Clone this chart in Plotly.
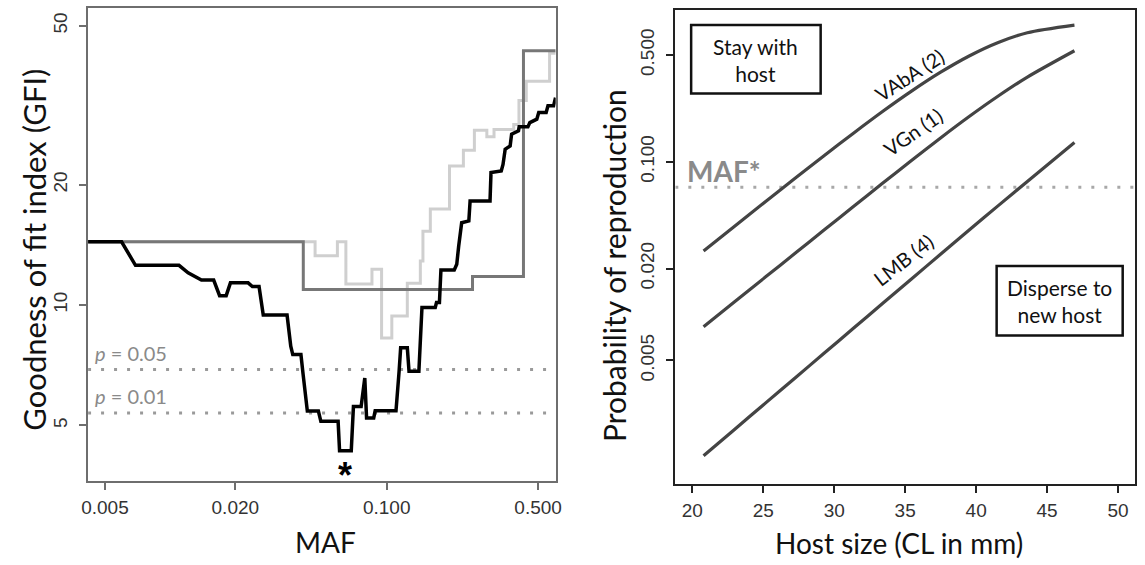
import numpy as np
import plotly.graph_objects as go

# ---------------- Left panel data (GFI vs MAF) ----------------
black_maf = [0.00418, 0.00597, 0.00692, 0.01099, 0.01211, 0.01395, 0.01589, 0.01692, 0.01815,
             0.01899, 0.02291, 0.02398, 0.02574, 0.02692, 0.03467, 0.03606, 0.03684, 0.04018,
             0.04112, 0.04301, 0.04837, 0.04966, 0.05966, 0.06059, 0.06861, 0.07022, 0.07621,
             0.07922, 0.08073, 0.0871, 0.08847, 0.1104, 0.1141, 0.1160, 0.1245, 0.1268, 0.1408,
             0.1455, 0.1676, 0.1698, 0.1752, 0.1780, 0.2051, 0.2106, 0.2150, 0.2219, 0.2395,
             0.2427, 0.3000, 0.3031, 0.3380, 0.3444, 0.3524, 0.3715, 0.3774, 0.4060, 0.4089,
             0.4487, 0.4581, 0.4932, 0.5035, 0.5449, 0.5555, 0.5896, 0.602]
black_gfi = [14.4, 14.4, 12.58, 12.58, 12.05, 11.55, 11.55, 10.56, 10.56,
             11.37, 11.37, 11.13, 11.13, 9.45, 9.45, 7.89, 7.52, 7.52,
             6.71, 5.43, 5.43, 5.12, 5.12, 4.32, 4.32, 5.58, 5.58,
             6.57, 5.22, 5.22, 5.44, 5.44, 6.83, 7.82, 7.82, 6.83, 6.83,
             9.87, 9.87, 10.15, 10.15, 12.25, 12.25, 12.65, 14.06, 16.08, 16.24,
             18.23, 18.23, 21.46, 21.67, 22.5, 24.56, 25.03, 26.79, 27.3, 27.93,
             27.93, 28.63, 29.2, 30.34, 30.34, 31.53, 31.53, 33.07]

dgray_maf = [0.00418, 0.0412, 0.249, 0.428, 0.603]
dgray_gfi = [14.4, 10.95, 11.8, 43.3, 43.3]

lgray_maf = [0.00418, 0.0467, 0.0592, 0.0648, 0.0855, 0.0947, 0.1056, 0.1245, 0.143, 0.147,
             0.159, 0.195, 0.226, 0.254, 0.290, 0.313, 0.386, 0.408, 0.441, 0.565, 0.603]
lgray_gfi = [14.4, 13.3, 14.4, 11.3, 12.3, 8.28, 9.39, 11.35, 12.9, 15.3,
             17.4, 22.3, 24.4, 27.4, 26.4, 27.5, 28.3, 32.5, 36.3, 42.7, 42.7]

p_levels = [6.90, 5.37]
p_labels = ["<i>p</i> = 0.05", "<i>p</i> = 0.01"]
maf_star = 0.0645          # position of the GFI minimum
left_xrange = [0.00418, 0.603]
left_yrange = [3.63, 55.4]
left_xticks = [0.005, 0.02, 0.1, 0.5]
left_xticktext = ["0.005", "0.020", "0.100", "0.500"]
left_yticks = [5, 10, 20, 50]

# ---------------- Right panel data (probability vs host size) ----------------
host_size = [20.79, 22.89, 25.19, 27.24, 29.28, 31.33, 33.38, 35.42, 37.47, 39.51, 41.56, 43.61, 46.93]
vaba_p = [0.0260, 0.03727, 0.05516, 0.0780, 0.1097, 0.1534, 0.2126, 0.2891, 0.3846, 0.4932, 0.6044, 0.6995, 0.7847]
vgn_p = [0.00832, 0.01193, 0.01770, 0.02515, 0.03570, 0.05073, 0.07194, 0.1016, 0.1427, 0.1978, 0.2695, 0.3585, 0.5334]
lmb_p = [0.001189, 0.001741, 0.002646, 0.003842, 0.005567, 0.008084, 0.01174, 0.01701, 0.02471, 0.03572, 0.05162, 0.07439, 0.1336]
curve_names = ["VAbA (2)", "VGn (1)", "LMB (4)"]
maf_star_p = 0.068
right_xrange = [18.8, 51.2]
right_yrange = [0.000776, 0.9863]
right_xticks = [20, 25, 30, 35, 40, 45, 50]
right_yticks = [0.005, 0.02, 0.1, 0.5]
right_yticktext = ["0.005", "0.020", "0.100", "0.500"]

W, H = 1145, 565
TITLE_FONT = "Lato, Open Sans, sans-serif"
TICK_FONT = "Liberation Sans, Arial, sans-serif"
DOTS = "3px,10px"

fig = go.Figure()

# threshold dotted lines (drawn first, under the curves)
for lvl in p_levels:
    fig.add_trace(go.Scatter(x=left_xrange, y=[lvl, lvl], mode="lines",
                             line=dict(color="#9a9a9a", width=3, dash=DOTS),
                             xaxis="x", yaxis="y", hoverinfo="skip"))
fig.add_trace(go.Scatter(x=right_xrange, y=[maf_star_p, maf_star_p], mode="lines",
                         line=dict(color="#a8a8a8", width=3, dash=DOTS),
                         xaxis="x2", yaxis="y2", hoverinfo="skip"))

# left panel lines (light gray under dark gray under black)
fig.add_trace(go.Scatter(x=lgray_maf, y=lgray_gfi, mode="lines",
                         line=dict(color="#cfcfcf", width=3, shape="hv"),
                         xaxis="x", yaxis="y", hoverinfo="skip"))
fig.add_trace(go.Scatter(x=dgray_maf, y=dgray_gfi, mode="lines",
                         line=dict(color="#777777", width=3, shape="hv"),
                         xaxis="x", yaxis="y", hoverinfo="skip"))
fig.add_trace(go.Scatter(x=black_maf, y=black_gfi, mode="lines",
                         line=dict(color="#000000", width=3.5),
                         xaxis="x", yaxis="y", hoverinfo="skip"))

# right panel curves
for pvals in (vaba_p, vgn_p, lmb_p):
    fig.add_trace(go.Scatter(x=host_size, y=pvals, mode="lines",
                             line=dict(color="#444444", width=3.2, shape="spline", smoothing=0.8),
                             xaxis="x2", yaxis="y2", hoverinfo="skip"))

shapes = []
# text boxes on the right panel
shapes.append(dict(type="rect", xref="paper", yref="paper",
                   x0=692 / W, x1=823 / W, y0=1 - 93.5 / H, y1=1 - 25 / H,
                   line=dict(color="#111111", width=2.5), fillcolor="white", layer="below"))
shapes.append(dict(type="rect", xref="paper", yref="paper",
                   x0=1001 / W, x1=1128.5 / W, y0=1 - 335.5 / H, y1=1 - 266 / H,
                   line=dict(color="#111111", width=2.5), fillcolor="white", layer="below"))


def ann(**kw):
    base = dict(showarrow=False, xanchor="center", yanchor="middle")
    base.update(kw)
    return base


annotations = []
# axis titles
annotations.append(ann(text="Goodness of fit index (GFI)", xref="paper", yref="paper",
                       x=27 / W, y=1 - 250 / H, textangle=-90,
                       font=dict(family=TITLE_FONT, size=31, color="#111")))
annotations.append(ann(text="MAF", xref="paper", yref="paper",
                       x=322 / W, y=1 - 542 / H,
                       font=dict(family=TITLE_FONT, size=28, color="#111")))
annotations.append(ann(text="Probability of reproduction", xref="paper", yref="paper",
                       x=614 / W, y=1 - 266 / H, textangle=-90,
                       font=dict(family=TITLE_FONT, size=30, color="#111")))
annotations.append(ann(text="Host size (CL in mm)", xref="paper", yref="paper",
                       x=902 / W, y=1 - 543 / H,
                       font=dict(family=TITLE_FONT, size=28, color="#111")))
# p labels
for lvl, lab in zip(p_levels, p_labels):
    annotations.append(ann(text=lab, xref="x domain", yref="y", x=0.01,
                           y=np.log10(lvl) + 0.042, xanchor="left",
                           font=dict(family=TITLE_FONT, size=20, color="#8a8a8a")))
# asterisk at the GFI minimum
annotations.append(ann(text="<b>*</b>", xref="x", yref="y", x=np.log10(maf_star),
                       y=np.log10(3.74),
                       font=dict(family=TICK_FONT, size=36, color="#000")))
# MAF* label
annotations.append(ann(text="<b>MAF*</b>", xref="x2", yref="y2", x=22.2,
                       y=np.log10(maf_star_p) + 0.11,
                       font=dict(family=TITLE_FONT, size=28, color="#8a8a8a")))
# curve labels
label_pos = [(35.29, 0.369, -33), (35.54, 0.1566, -35), (34.85, 0.0226, -38)]
for name, (lx, lp, ang) in zip(curve_names, label_pos):
    annotations.append(ann(text=name, xref="x2", yref="y2", x=lx, y=np.log10(lp),
                           textangle=ang,
                           font=dict(family=TITLE_FONT, size=20, color="#111")))
# box texts
annotations.append(ann(text="Stay with<br>host", xref="paper", yref="paper",
                       x=757 / W, y=1 - 60 / H,
                       font=dict(family=TITLE_FONT, size=21, color="#111")))
annotations.append(ann(text="Disperse to<br>new host", xref="paper", yref="paper",
                       x=1065 / W, y=1 - 301 / H,
                       font=dict(family=TITLE_FONT, size=21, color="#111")))

axis_common = dict(showgrid=False, zeroline=False, showline=True, mirror=True,
                   ticks="outside", ticklen=7)
tickfont = dict(family=TICK_FONT, size=19, color="#333")

fig.update_layout(
    width=W, height=H, margin=dict(l=0, r=0, t=0, b=0),
    paper_bgcolor="white", plot_bgcolor="white", showlegend=False,
    xaxis=dict(domain=[82 / W, 555 / W], type="log", range=list(np.log10(left_xrange)), anchor="y",
               tickvals=left_xticks, ticktext=left_xticktext,
               linecolor="#6e6e6e", linewidth=1.5, tickcolor="#6e6e6e", tickwidth=1.5,
               tickfont=tickfont, ticklabelstandoff=1, **axis_common),
    yaxis=dict(domain=[1 - 481 / H, 1 - 8 / H], type="log", range=list(np.log10(left_yrange)), anchor="x",
               tickvals=left_yticks, ticktext=[str(v) for v in left_yticks], tickangle=-90,
               linecolor="#6e6e6e", linewidth=1.5, tickcolor="#6e6e6e", tickwidth=1.5,
               tickfont=tickfont, ticklabelstandoff=5, **axis_common),
    xaxis2=dict(domain=[676 / W, 1141 / W], range=right_xrange, anchor="y2",
                tickvals=right_xticks, ticktext=[str(v) for v in right_xticks],
                linecolor="#222", linewidth=2, tickcolor="#222", tickwidth=1.5,
                tickfont=tickfont, ticklabelstandoff=1, **axis_common),
    yaxis2=dict(domain=[1 - 484 / H, 1 - 10 / H], type="log", range=list(np.log10(right_yrange)), anchor="x2",
                tickvals=right_yticks, ticktext=right_yticktext, tickangle=-90,
                linecolor="#222", linewidth=2, tickcolor="#222", tickwidth=1.5,
                tickfont=tickfont, ticklabelstandoff=5, **axis_common),
    shapes=shapes, annotations=annotations,
)

fig.write_html("out.html")
